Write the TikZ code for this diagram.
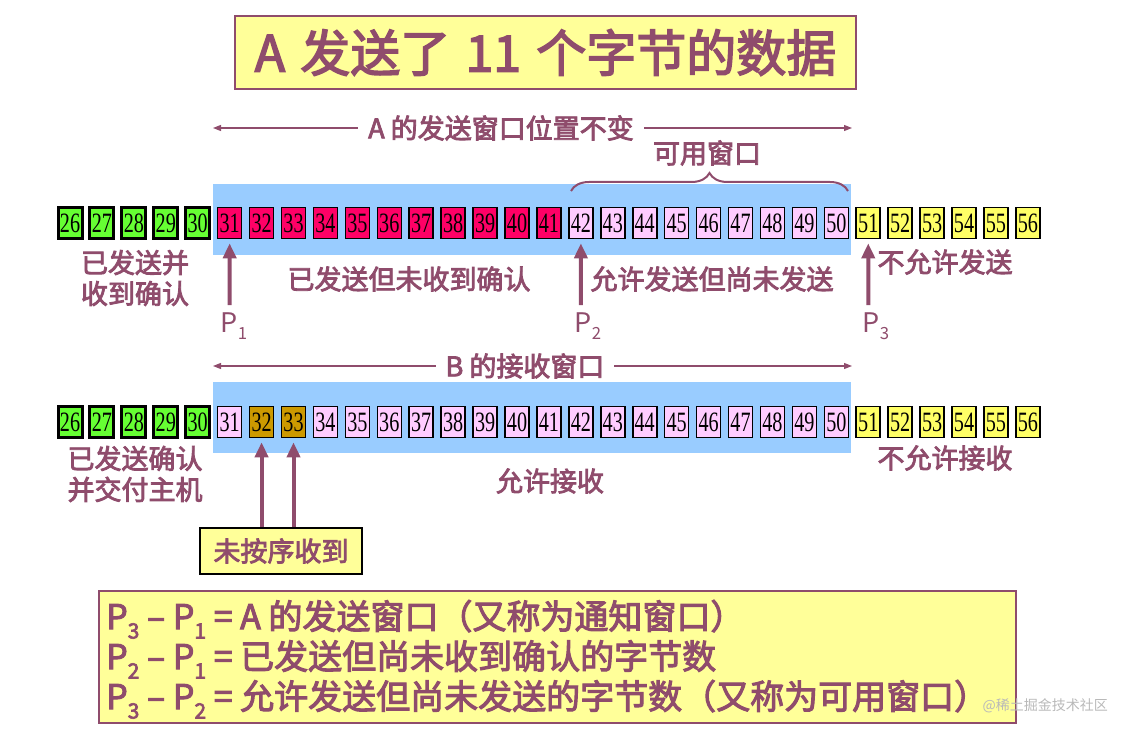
\documentclass[tikz,border=0pt]{standalone}
\usepackage{fontspec}
\usepackage{graphicx}
\setmainfont{Liberation Serif}
\newfontfamily\cjk{Noto Sans CJK SC}
\newfontfamily\cjkm{Noto Sans CJK SC}[FakeBold=3]
\usetikzlibrary{decorations.pathreplacing,arrows.meta}
\definecolor{mauve}{HTML}{8F4C6C}
\definecolor{lblue}{HTML}{99CCFF}
\definecolor{cgreen}{HTML}{66FF33}
\definecolor{cred}{HTML}{FF0066}
\definecolor{cpink}{HTML}{FFCCFF}
\definecolor{cyel}{HTML}{FFFF66}
\definecolor{corange}{HTML}{CC9900}
\definecolor{pyel}{HTML}{FFFF99}
\newcommand\psub[2]{#1\raisebox{-0.28em}{\scalebox{0.62}{#2}}}
\newcommand\num[1]{\scalebox{0.72}[1]{#1}}
\begin{document}
\begin{tikzpicture}[x=1pt,y=-1pt,
  cell/.style={draw=black,line width=1.6pt,minimum width=24pt,minimum height=31pt,inner sep=0pt,font=\fontsize{28}{28}\selectfont},
  gcell/.style={cell,fill=cgreen,line width=3pt},
  lbl/.style={text=mauve,font=\cjkm\fontsize{27}{31}\selectfont,inner sep=0pt,align=center},
  plbl/.style={text=mauve,font=\cjk\fontsize{27}{27}\selectfont,inner sep=0pt},
  eq/.style={text=mauve,font=\cjkm\fontsize{34}{40}\selectfont,inner sep=0pt,anchor=base west},
  parrow/.style={draw=mauve,line width=4pt,-{Triangle[length=15pt,width=13pt]}},
  harrow/.style={draw=mauve,line width=1.3pt,{Triangle[length=8pt,width=6pt]}-{Triangle[length=8pt,width=6pt]}},
  pyelbox/.style={draw=mauve,line width=2pt,fill=pyel,inner sep=0pt},
  band/.style={fill=lblue,inner sep=0pt,anchor=north west,minimum width=638pt,minimum height=71pt}
]
\useasboundingbox (0,0) rectangle (1126,738);
% title
\node[pyelbox,minimum width=621pt,minimum height=73pt,text=mauve,font=\cjkm\fontsize{50}{50}\selectfont] (title) at (545.5,52.5) {A\hspace{4pt} 发送了\hspace{4pt} 11\hspace{4pt} 个字节的数据};
% top arrow
\coordinate (h1l) at (213,128);
\coordinate (h1r) at (852,128);
\draw[harrow] (h1l) -- (h1r);
\node[lbl,fill=white,inner xsep=10pt,inner ysep=2pt] (t1) at (501,128) {A 的发送窗口位置不变};
\node[lbl] (avail) at (707,153) {可用窗口};
% bands
\node[band] (band1) at (213,184) {};
\node[band] (band2) at (213,382) {};
% brace
\coordinate (bl) at (571,191);
\coordinate (br) at (848,191);
\draw[draw=mauve,line width=2pt,decorate,decoration={brace,amplitude=18pt}] (bl) -- (br);
% row 1
\foreach \n in {26,...,30} \node[gcell] (c\n) at ({70+(\n-26)*31.93},223) {\num{\n}};
\foreach \n in {31,...,41} \node[cell,fill=cred] (c\n) at ({70+(\n-26)*31.93},223) {\num{\n}};
\foreach \n in {42,...,50} \node[cell,fill=cpink] (c\n) at ({70+(\n-26)*31.93},223) {\num{\n}};
\foreach \n in {51,...,56} \node[cell,fill=cyel] (c\n) at ({70+(\n-26)*31.93},223) {\num{\n}};
% row 2
\foreach \n in {26,...,30} \node[gcell] (d\n) at ({70+(\n-26)*31.93},422) {\num{\n}};
\foreach \n in {31,34,35,...,50} \node[cell,fill=cpink] (d\n) at ({70+(\n-26)*31.93},422) {\num{\n}};
\foreach \n in {32,33} \node[cell,fill=corange] (d\n) at ({70+(\n-26)*31.93},422) {\num{\n}};
\foreach \n in {51,...,56} \node[cell,fill=cyel] (d\n) at ({70+(\n-26)*31.93},422) {\num{\n}};
% row 1 labels
\node[lbl] (l1) at (135,278) {已发送并\\收到确认};
\node[lbl] (l2) at (409,279) {已发送但未收到确认};
\node[lbl] (l3) at (712,279) {允许发送但尚未发送};
\node[lbl] (l4) at (945,262) {不允许发送};
% pointers
\node[plbl] (p1) at (234,326) {\psub{P}{1}};
\node[plbl] (p2) at (588,326) {\psub{P}{2}};
\node[plbl] (p3) at (876,326) {\psub{P}{3}};
\coordinate (a1) at (229.65,305);
\coordinate (a2) at (580.88,305);
\coordinate (a3) at (868.25,305);
\draw[parrow,shorten >=4pt] (a1) -- (c31.south);
\draw[parrow,shorten >=4pt] (a2) -- (c42.south);
\draw[parrow,shorten >=4pt] (a3) -- (c51.south);
% second arrow
\coordinate (h2l) at (213,366);
\coordinate (h2r) at (852,366);
\draw[harrow] (h2l) -- (h2r);
\node[lbl,fill=white,inner xsep=10pt,inner ysep=2pt] (t2) at (525,366) {B 的接收窗口};
% row 2 labels
\node[lbl] (l5) at (135,474) {已发送确认\\并交付主机};
\node[lbl] (l6) at (550,481) {允许接收};
\node[lbl] (l7) at (945,458) {不允许接收};
\node[draw=black,line width=2pt,fill=pyel,minimum width=162pt,minimum height=46pt,text=mauve,font=\cjkm\fontsize{27}{27}\selectfont,inner sep=0pt] (ub) at (281,551) {未按序收到};
\draw[parrow,shorten >=4pt] (ub.north -| d32.south) -- (d32.south);
\draw[parrow,shorten >=4pt] (ub.north -| d33.south) -- (d33.south);
% bottom box
\node[pyelbox,minimum width=917pt,minimum height=132pt,anchor=north west] (eqbox) at (98,590) {};
\node[eq] (eq1) at (106,629) {\psub{P}{3} – \psub{P}{1} = A 的发送窗口（又称为通知窗口）};
\node[eq] (eq2) at (106,669) {\psub{P}{2} – \psub{P}{1} = 已发送但尚未收到确认的字节数};
\node[eq] (eq3) at (106,709) {\psub{P}{3} – \psub{P}{2} = 允许发送但尚未发送的字节数（又称为可用窗口）};
\node[text=gray!55,font=\cjk\fontsize{14}{14}\selectfont,inner sep=0pt,anchor=east] (wm) at (1108,706) {@稀土掘金技术社区};
\end{tikzpicture}
\end{document}
